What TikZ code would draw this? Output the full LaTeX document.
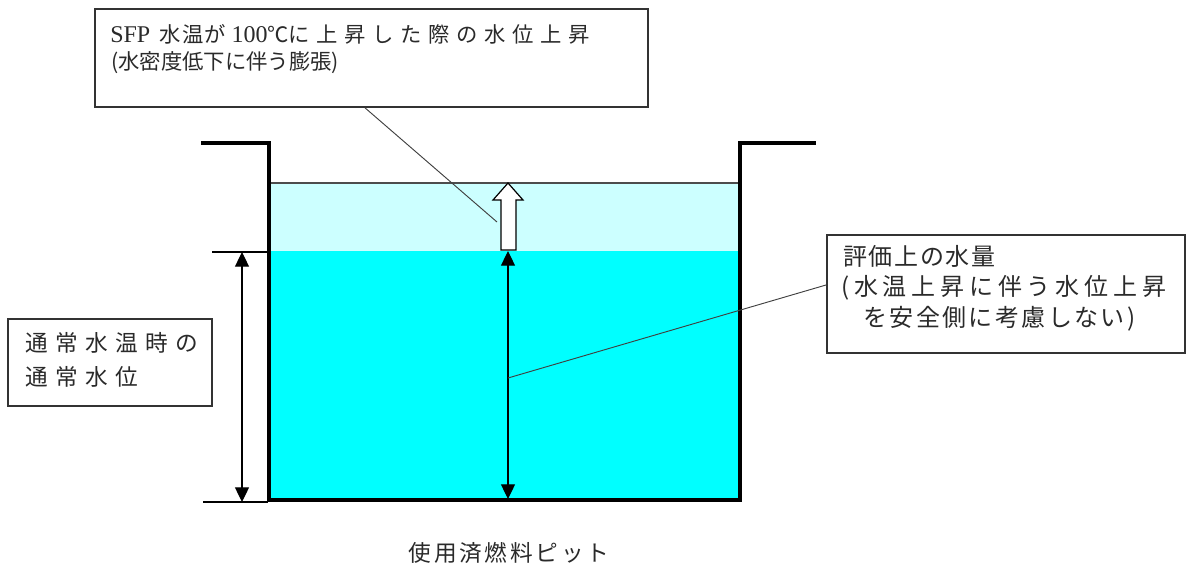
\documentclass[tikz,border=0pt]{standalone}
\usepackage{fontspec}
\setmainfont{Noto Sans CJK JP}
\newfontfamily\jp{Noto Sans CJK JP}
\newfontfamily\jpwide[LetterSpace=31]{Noto Sans CJK JP}
\newfontfamily\jpsix[LetterSpace=6]{Noto Sans CJK JP}
\newfontfamily\jpseven[LetterSpace=7]{Noto Sans CJK JP}
\newfontfamily\jpten[LetterSpace=10]{Noto Sans CJK JP}
\newfontfamily\jptwenty[LetterSpace=20]{Noto Sans CJK JP}
\newfontfamily\jpcap[LetterSpace=12]{Noto Sans CJK JP}
\newfontfamily\jpleft[LetterSpace=33]{Noto Sans CJK JP}
\newfontfamily\lat{Liberation Serif}
\usetikzlibrary{arrows.meta}
\definecolor{lightwater}{HTML}{CCFFFF}
\definecolor{water}{HTML}{00FFFF}
\definecolor{txtgray}{HTML}{2A2A2A}
\tikzset{
  box/.style={draw=black!80, line width=1.2pt, fill=white, inner sep=0pt},
  label/.style={anchor=west, inner sep=0pt, text=txtgray},
  wall/.style={line width=3.2pt, line cap=butt, line join=miter},
  leader/.style={draw=black!75, line width=0.7pt},
  dim/.style={line width=0.9pt, {Triangle[width=10.5pt,length=11pt]}-{Triangle[width=10.5pt,length=11pt]}},
  thin/.style={line width=0.9pt},
}
\begin{document}
\begin{tikzpicture}[x=0.75pt,y=-0.75pt]
\useasboundingbox (0,0) rectangle (1189,576);
% water
\fill[lightwater] (271,183) rectangle (738,251);
\fill[water] (271,251) rectangle (738,499);
\draw[black!70, line width=0.8pt] (271,183) -- (738,183);
% pit walls
\draw[wall] (201,143) -- (269,143) -- (269,500) -- (740,500) -- (740,143) -- (816,143);
% left dimension
\coordinate (ltop) at (242,252);
\coordinate (lbot) at (242,502);
\draw[thin] (212,252) -- (268,252);
\draw[thin] (203,502) -- (268,502);
\draw[dim] (ltop) -- (lbot);
% centre dimension
\coordinate (ctop) at (508,251);
\coordinate (cbot) at (508,499);
\draw[dim] (ctop) -- (cbot);
% white block arrow
\draw[fill=white, line width=0.9pt, line join=miter] (501,250) -- (516,250) -- (516,200) -- (523,200) -- (508,183) -- (493,200) -- (501,200) -- cycle;
% top box
\node[box, minimum width=553*0.75pt, minimum height=98*0.75pt] (topbox) at (371.5,58) {};
\node[label, font=\fontsize{16pt}{18pt}\selectfont] (t1) at (110,34)
  {{\lat\fontsize{18pt}{18pt}\selectfont SFP}\hspace{7pt}{\jpsix 水温が}\hspace{4pt}{\lat\fontsize{18pt}{18pt}\selectfont 100}℃{\jpwide に上昇した際の水位上昇}};
\node[label, font=\fontsize{16pt}{18pt}\selectfont] (t2) at (111,63) {(水密度低下に伴う膨張)};
\coordinate (arrowside) at (497,222);
\draw[leader] ([xshift=-4.9pt]topbox.south) -- (arrowside);
% left box
\node[box, minimum width=204*0.75pt, minimum height=87*0.75pt] (leftbox) at (110,362.5) {};
\node[label, font=\fontsize{17pt}{18pt}\jpleft] (l1) at (25,343) {通常水温時の};
\node[label, font=\fontsize{17pt}{18pt}\jpleft] (l2) at (25,377) {通常水位};
% right box
\node[box, minimum width=358*0.75pt, minimum height=118*0.75pt] (rightbox) at (1006,294) {};
\node[label, font=\fontsize{18pt}{18pt}\jpseven] (r1) at (843,256) {評価上の水量};
\node[label, font=\fontsize{18pt}{18pt}\jptwenty] (r2) at (841,288) {(水温上昇に伴う水位上昇};
\node[label, font=\fontsize{18pt}{18pt}\jpten] (r3) at (863,319) {を安全側に考慮しない)};
\coordinate (midarrow) at (508,378);
\draw[leader] ([yshift=6.8pt]rightbox.west) -- (midarrow);
% caption
\node[inner sep=0pt, text=txtgray, font=\fontsize{17pt}{18pt}\jpcap] (cap) at (509,553) {使用済燃料ピット};
\end{tikzpicture}
\end{document}
